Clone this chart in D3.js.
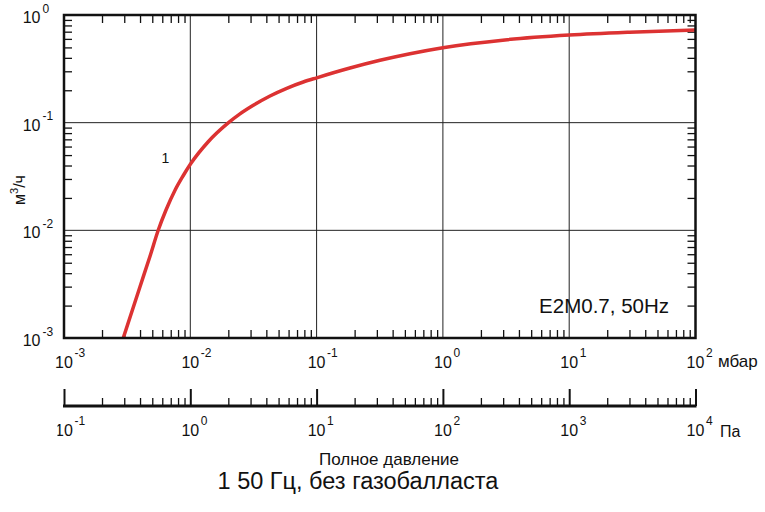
<!DOCTYPE html>
<html>
<head>
<meta charset="utf-8">
<script src="https://cdn.jsdelivr.net/npm/d3@7"></script>
<style>
  body { margin: 0; background: #fff; }
  text { font-family: "Liberation Sans", Arial, sans-serif; fill: #111; }
</style>
</head>
<body>
<svg id="chart" width="765" height="512"></svg>
<script>
// pump speed curve (pressure in mbar, speed in m3/h)
var pressure = [0.002946, 0.003997, 0.004798, 0.00558, 0.006421, 0.007566, 0.008753, 0.010128, 0.013807, 0.020069,
                0.024737, 0.031537, 0.042767, 0.057984, 0.078437, 0.10018, 0.18383, 0.31768, 0.54887, 1.0,
                3.1, 10, 30, 100];
var speed    = [0.0010, 0.002996, 0.005751, 0.010072, 0.015444, 0.02359, 0.031962, 0.041936, 0.06614, 0.099929,
                0.12064, 0.14497, 0.17689, 0.20856, 0.23849, 0.26105, 0.32187, 0.37953, 0.43706, 0.49708,
                0.58708, 0.65069, 0.69212, 0.72713];

var mbarTicks = [-3, -2, -1, 0, 1, 2];   // exponents on the mbar axis
var paTicks   = [-1, 0, 1, 2, 3, 4];     // exponents on the Pa axis
var speedTicks = [-3, -2, -1, 0];

var pLeft = 64, pRight = 695.5, pTop = 15, pBottom = 338, paY = 406;

var x = d3.scaleLog().domain([1e-3, 1e2]).range([pLeft, pRight]);
var xPa = d3.scaleLog().domain([1e-1, 1e4]).range([pLeft, pRight]);
var y = d3.scaleLog().domain([1e-3, 1]).range([pBottom, pTop]);

var svg = d3.select('#chart');

function isMajor(v) {
  var l = Math.log10(v);
  return Math.abs(l - Math.round(l)) < 1e-9;
}
var xMinor = x.ticks().filter(function(v) { return !isMajor(v); });
var yMinor = y.ticks().filter(function(v) { return !isMajor(v); });
var paMinor = xPa.ticks().filter(function(v) { return !isMajor(v); });

// grid lines at each decade
var grid = svg.append('g').attr('stroke', '#222').attr('stroke-width', 1);
grid.selectAll('line.vx')
  .data(mbarTicks.slice(1, -1))
  .enter().append('line')
  .attr('x1', function(d) { return x(Math.pow(10, d)); })
  .attr('x2', function(d) { return x(Math.pow(10, d)); })
  .attr('y1', pTop).attr('y2', pBottom);
grid.selectAll('line.hy')
  .data(speedTicks.slice(1, -1))
  .enter().append('line')
  .attr('y1', function(d) { return y(Math.pow(10, d)); })
  .attr('y2', function(d) { return y(Math.pow(10, d)); })
  .attr('x1', pLeft).attr('x2', pRight);

// minor ticks on all four sides, pointing inward
function minorAxis(axis, vals, tx, ty) {
  var g = svg.append('g').attr('transform', 'translate(' + tx + ',' + ty + ')')
    .call(axis.tickValues(vals).tickSize(8).tickSizeOuter(0).tickFormat(''));
  g.select('.domain').remove();
  g.selectAll('line').attr('stroke', '#111').attr('stroke-width', 1.3);
}
minorAxis(d3.axisTop(x), xMinor, 0, pBottom);
minorAxis(d3.axisBottom(x), xMinor, 0, pTop);
minorAxis(d3.axisRight(y), yMinor, pLeft, 0);
minorAxis(d3.axisLeft(y), yMinor, pRight, 0);

// the curve
svg.append('clipPath').attr('id', 'plotclip')
  .append('rect').attr('x', pLeft).attr('y', pTop)
  .attr('width', pRight - pLeft).attr('height', pBottom - pTop);

var line = d3.line()
  .x(function(d) { return x(d[0]); })
  .y(function(d) { return y(d[1]); })
  .curve(d3.curveMonotoneX);

svg.append('path')
  .datum(d3.zip(pressure, speed))
  .attr('clip-path', 'url(#plotclip)')
  .attr('fill', 'none')
  .attr('stroke', '#dc3232')
  .attr('stroke-width', 3.5)
  .attr('d', line);

// frame
svg.append('rect')
  .attr('x', pLeft).attr('y', pTop)
  .attr('width', pRight - pLeft).attr('height', pBottom - pTop)
  .attr('fill', 'none').attr('stroke', '#111').attr('stroke-width', 2.5);

// y labels
var yl = svg.append('g');
speedTicks.forEach(function(e) {
  var yy = y(Math.pow(10, e));
  yl.append('text').attr('x', 40.5).attr('y', yy + 8)
    .attr('text-anchor', 'end').attr('font-size', 16).text('10');
  yl.append('text').attr('x', 42.5).attr('y', yy - 2.5)
    .attr('font-size', 12).text(e === 0 ? '0' : '-' + Math.abs(e));
});
svg.append('text')
  .attr('transform', 'translate(25,190) rotate(-90)')
  .attr('text-anchor', 'middle').attr('font-size', 16)
  .html('м<tspan dy="-7" font-size="11">3</tspan><tspan dy="7">/ч</tspan>');

// exponent-style labels under an axis
function expLabels(scale, exps, yy, cls) {
  var g = svg.append('g').attr('class', cls);
  exps.forEach(function(e) {
    var xx = scale(Math.pow(10, e));
    g.append('text').attr('x', xx).attr('y', yy)
      .attr('text-anchor', 'middle').attr('font-size', 16).text('10');
    g.append('text').attr('x', xx + 10.5).attr('y', yy - 11)
      .attr('font-size', 12).text(e === 0 ? '0' : (e < 0 ? '-' : '') + Math.abs(e));
  });
  return g;
}
expLabels(x, mbarTicks, 367.5, 'mbar');
svg.append('text').attr('x', 718).attr('y', 366.5).attr('font-size', 17).text('мбар');

// Pa axis
var paAxis = svg.append('g').attr('transform', 'translate(0,' + paY + ')');
paAxis.call(d3.axisTop(xPa).tickValues(paMinor).tickSize(8).tickSizeOuter(0).tickFormat(''));
paAxis.select('.domain').remove();
paAxis.selectAll('line').attr('stroke', '#111').attr('stroke-width', 1.3);
var paMajor = svg.append('g').attr('transform', 'translate(0,' + paY + ')');
paMajor.call(d3.axisTop(xPa).tickValues(paTicks.map(function(e) { return Math.pow(10, e); }))
  .tickSize(17).tickSizeOuter(0).tickFormat(''));
paMajor.select('.domain').remove();
paMajor.selectAll('line').attr('stroke', '#111').attr('stroke-width', 2);
svg.append('line').attr('x1', pLeft - 1).attr('x2', pRight + 1)
  .attr('y1', paY).attr('y2', paY).attr('stroke', '#111').attr('stroke-width', 3);

svg.append('clipPath').attr('id', 'paclip')
  .append('rect').attr('x', 57.5).attr('y', 380).attr('width', 700).attr('height', 80);
expLabels(xPa, paTicks, 436, 'pa').attr('clip-path', 'url(#paclip)');
svg.append('text').attr('x', 720).attr('y', 437).attr('font-size', 16).text('Па');

// annotations
svg.append('text').attr('x', 161.5).attr('y', 163).attr('font-size', 14).text('1');
svg.append('text').attr('x', 669).attr('y', 313).attr('text-anchor', 'end')
  .attr('font-size', 20.5).text('E2M0.7, 50Hz');
svg.append('text').attr('x', 389).attr('y', 464.5).attr('text-anchor', 'middle')
  .attr('font-size', 17).text('Полное давление');
svg.append('text').attr('x', 358).attr('y', 488.5).attr('text-anchor', 'middle')
  .attr('font-size', 23.5).text('1 50 Гц, без газобалласта');
</script>
</body>
</html>
